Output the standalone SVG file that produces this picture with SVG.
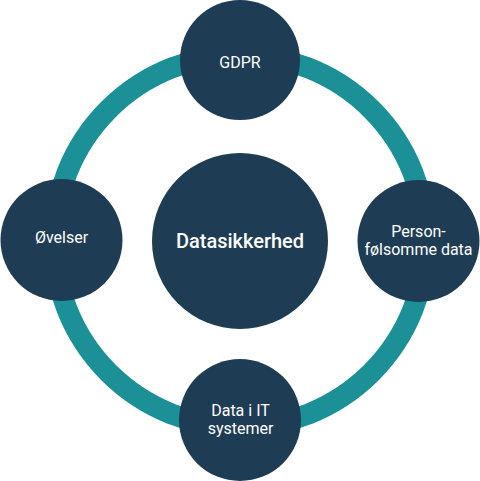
<svg xmlns="http://www.w3.org/2000/svg" width="480" height="481" viewBox="0 0 480 481">
<style>
.node{fill:#1e3d54}
.t{fill:#ffffff;font-family:Roboto,"Liberation Sans",sans-serif;font-size:16px;text-anchor:middle}
.big{font-size:20px;font-weight:500}
</style>
<rect width="480" height="481" fill="#ffffff"/>
<g id="connectors">
<circle cx="240" cy="241" r="186" fill="none" stroke="#1b9096" stroke-width="21"/>
</g>
<g id="center"><circle class="node" cx="240" cy="241" r="88"/><text class="t big" x="240" y="248">Datasikkerhed</text></g>
<g id="gdpr"><circle class="node" cx="240" cy="60" r="60"/><text class="t" x="240" y="68">GDPR</text></g>
<g id="ovelser"><circle class="node" cx="61.5" cy="240" r="61"/><text class="t" x="61.5" y="243">Øvelser</text></g>
<g id="personfolsomme"><circle class="node" cx="418.5" cy="241" r="61"/><text class="t" x="418.5" y="237">Person-</text><text class="t" x="418.5" y="255">følsomme data</text></g>
<g id="data-it"><circle class="node" cx="240" cy="420" r="61"/><text class="t" x="240.5" y="416">Data i IT</text><text class="t" x="240.5" y="434">systemer</text></g>
</svg>
